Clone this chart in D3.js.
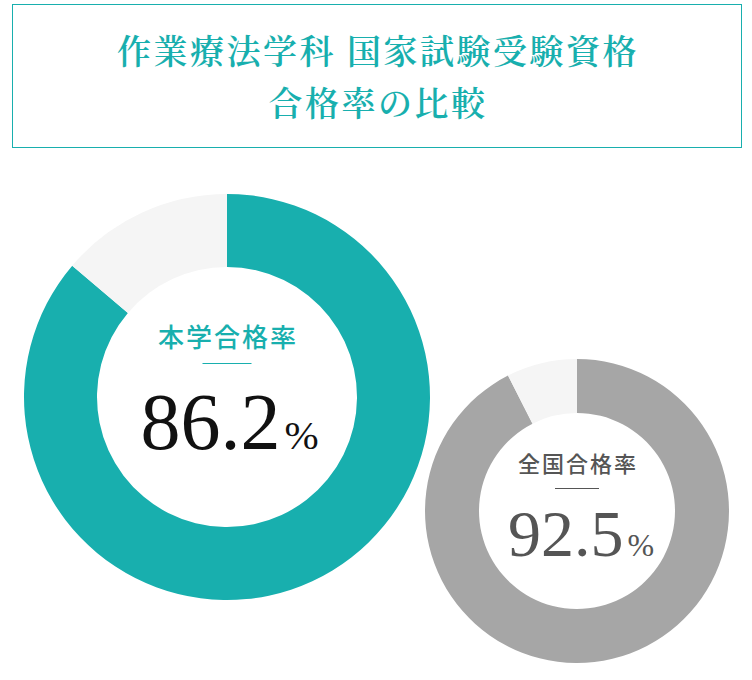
<!DOCTYPE html>
<html>
<head>
<meta charset="utf-8">
<script src="https://cdn.jsdelivr.net/npm/d3@7"></script>
<style>
  body { margin: 0; background: #fff; }
  svg { display: block; }
</style>
</head>
<body>
<div id="frame"></div>
<script>
// data
const titleLines = ["作業療法学科 国家試験受験資格", "合格率の比較"];
const labels = ["本学合格率", "全国合格率"];
const rates = [86.2, 92.5];

const teal = "#18afae";
const grey = "#a6a6a6";
const rest = "#f5f5f5";

const width = 752;
const height = 680;

const numFont = '"Liberation Serif", "Noto Serif CJK JP", serif';

const svg = d3
  .select("#frame")
  .append("svg")
  .attr("width", width)
  .attr("height", height);

// title box
svg
  .append("rect")
  .attr("x", 12.5)
  .attr("y", 4.5)
  .attr("width", 729)
  .attr("height", 143)
  .attr("fill", "none")
  .attr("stroke", teal)
  .attr("stroke-width", 1);

svg
  .selectAll("text.title")
  .data(titleLines)
  .join("text")
  .attr("class", "title")
  .attr("x", 377 + 1)
  .attr("y", (d, i) => 49 + i * 52)
  .attr("text-anchor", "middle")
  .attr("dominant-baseline", "central")
  .attr("fill", teal)
  .style("font-family", '"Noto Serif CJK JP", serif')
  .style("font-weight", 600)
  .style("font-size", "34px")
  .style("letter-spacing", "2.5px")
  .text((d) => d);

// one donut per rate
const donuts = [
  { cx: 227, cy: 397, outer: 203, inner: 130, color: teal, labelColor: teal, numColor: "#111",
    labelSize: 26, labelY: 335, lineY: 363.5, lineW: 49, numSize: 80, pctSize: 41, numY: 449, center: 229.5 },
  { cx: 577, cy: 511, outer: 152, inner: 98, color: grey, labelColor: "#555", numColor: "#555",
    labelSize: 22, labelY: 462, lineY: 488.5, lineW: 44, numSize: 66, pctSize: 32, numY: 555.5, center: 581 },
];

const pie = d3.pie().sort(null).value((d) => d);

donuts.forEach((o, i) => {
  const arc = d3.arc().innerRadius(o.inner).outerRadius(o.outer);
  const g = svg.append("g").attr("transform", `translate(${o.cx},${o.cy})`);
  g.selectAll("path")
    .data(pie([rates[i], 100 - rates[i]]))
    .join("path")
    .attr("d", arc)
    .attr("fill", (d, j) => (j === 0 ? o.color : rest));

  svg
    .append("text")
    .attr("x", o.cx + 1)
    .attr("y", o.labelY)
    .attr("text-anchor", "middle")
    .attr("dominant-baseline", "central")
    .attr("fill", o.labelColor)
    .style("font-family", '"Noto Sans CJK JP", sans-serif')
    .style("font-weight", 500)
    .style("font-size", o.labelSize + "px")
    .style("letter-spacing", "2px")
    .text(labels[i]);

  svg
    .append("line")
    .attr("x1", o.cx - o.lineW / 2)
    .attr("x2", o.cx + o.lineW / 2)
    .attr("y1", o.lineY)
    .attr("y2", o.lineY)
    .attr("stroke", o.labelColor)
    .attr("stroke-width", 1);

  // number and % as two texts, centred together
  const num = svg
    .append("text")
    .attr("y", o.numY)
    .attr("fill", o.numColor)
    .style("font-family", numFont)
    .style("font-size", o.numSize + "px")
    .text(d3.format(".1f")(rates[i]));
  const pct = svg
    .append("text")
    .attr("y", o.numY)
    .attr("fill", o.numColor)
    .style("font-family", numFont)
    .style("font-size", o.pctSize + "px")
    .text("%");
  const gap = 4;
  const w1 = num.node().getComputedTextLength();
  const w2 = pct.node().getComputedTextLength();
  const x0 = o.center - (w1 + gap + w2) / 2;
  num.attr("x", x0);
  pct.attr("x", x0 + w1 + gap);
});
</script>
</body>
</html>
